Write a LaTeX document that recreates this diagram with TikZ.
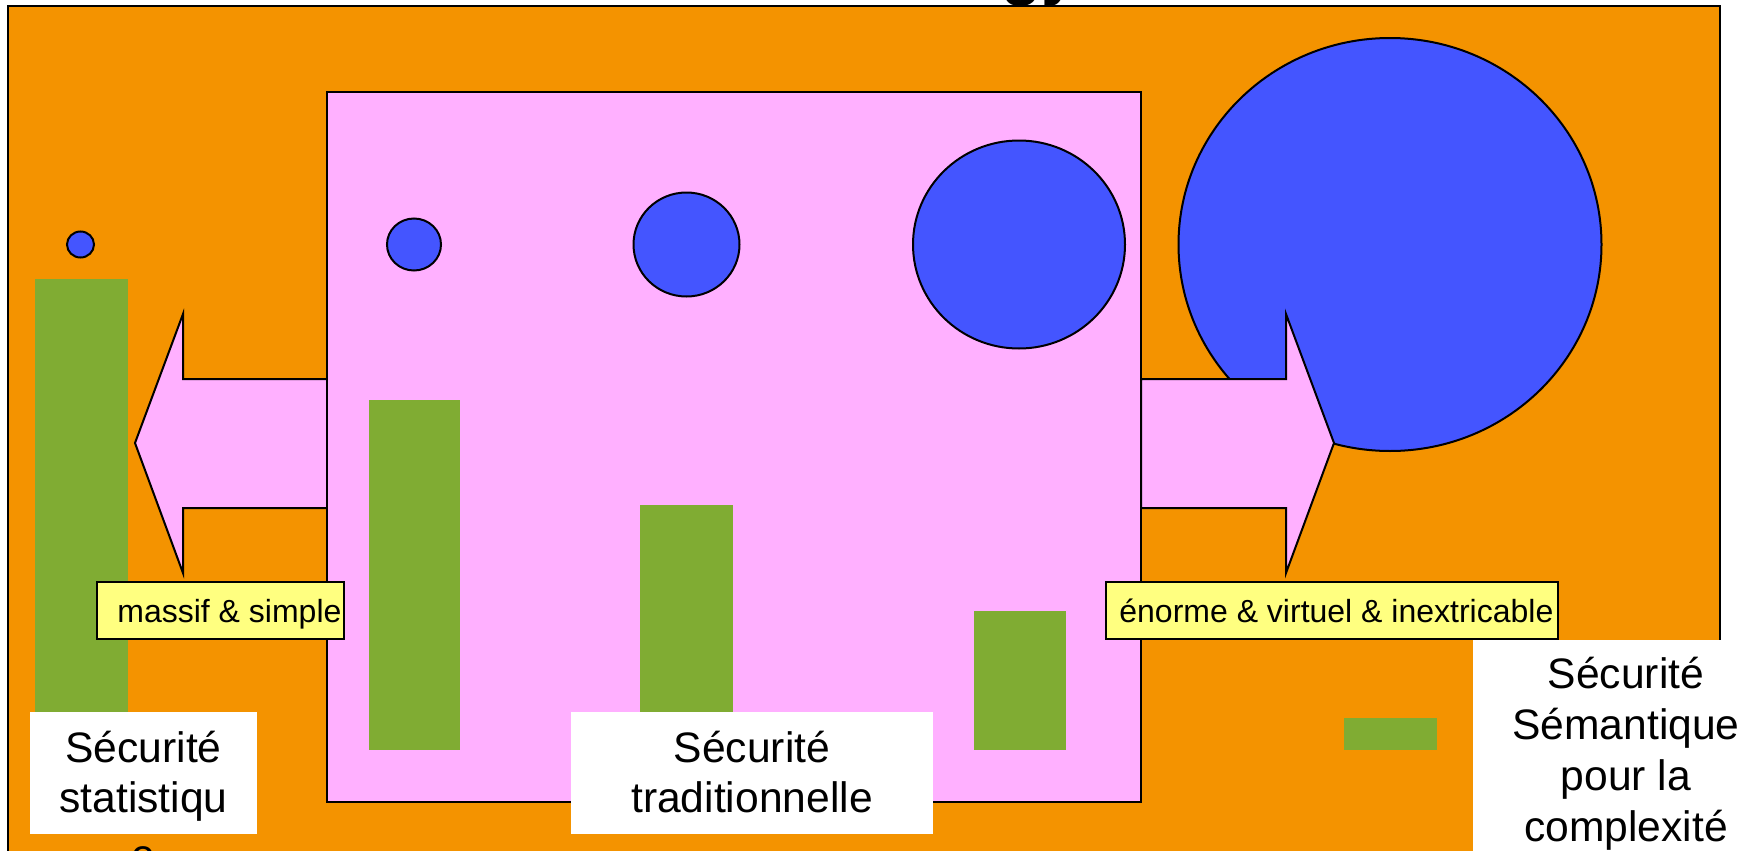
\documentclass[tikz,border=0pt]{standalone}
\usepackage{fontspec}
\setmainfont{Liberation Sans}
\definecolor{bgorange}{RGB}{244,147,0}
\definecolor{pinkc}{RGB}{255,176,255}
\definecolor{bluec}{RGB}{68,85,255}
\definecolor{greenc}{RGB}{128,172,51}
\definecolor{yellowc}{RGB}{255,255,128}
\begin{document}
\begin{tikzpicture}[x=0.5pt,y=-0.5pt,
  outl/.style={draw=black, line width=1pt, line join=miter},
  bar/.style={fill=greenc},
  ball/.style={outl, fill=bluec},
  tag/.style={outl, fill=yellowc},
  whitebox/.style={fill=white},
  bigtxt/.style={font=\fontsize{21.3}{25}\selectfont, anchor=base, inner sep=0pt},
  smalltxt/.style={font=\fontsize{16}{19}\selectfont, anchor=base west, inner sep=0pt},
  titletxt/.style={font=\fontsize{33}{38}\selectfont\bfseries, anchor=base west, inner sep=0pt},
]
\useasboundingbox (0,0) rectangle (1746,851);
\clip (0,0) rectangle (1746,851);
% title fragment
\node[titletxt] (title) at (1001,-8) {gy};
% background
\draw[outl, fill=bgorange] (8,5.5) rectangle (1720,900);
% big circle
\draw[ball] (1390,244.5) ellipse [x radius=211.5, y radius=206.5];
% arrows
\draw[outl, fill=pinkc] (327,379) -- (183,379) -- (183,314) -- (135,443) -- (183,573) -- (183,508) -- (327,508) -- cycle;
\draw[outl, fill=pinkc] (1141,379) -- (1286,379) -- (1286,314) -- (1334,443) -- (1286,573) -- (1286,508) -- (1141,508) -- cycle;
% central pink rectangle
\draw[outl, fill=pinkc] (327,92) rectangle (1141,802);
% circles
\draw[ball] (80.5,244.5) ellipse [x radius=13.5, y radius=13];
\draw[ball] (414,244.5) ellipse [x radius=27, y radius=26];
\draw[ball] (686.5,244.5) ellipse [x radius=53, y radius=52];
\draw[ball] (1019,244.5) ellipse [x radius=106, y radius=104];
% green bars
\fill[bar] (35,279) rectangle (128,750);
\fill[bar] (369,400) rectangle (460,750);
\fill[bar] (640,505) rectangle (733,750);
\fill[bar] (974,611) rectangle (1066,750);
\fill[bar] (1344,718) rectangle (1437,750);
% yellow labels
\draw[tag] (97,582) rectangle (344,639);
\node[smalltxt] (lblL) at (117,622) {massif \& simple};
\draw[tag] (1106,582) rectangle (1558,639);
\node[smalltxt] (lblR) at (1119,622) {énorme \& virtuel \& inextricable};
% white boxes
\fill[whitebox] (30,712) rectangle (257,834);
\fill[whitebox] (571,712) rectangle (933,834);
\fill[whitebox] (1473,640) rectangle (1760,860);
% texts
\node[bigtxt] (s1a) at (143.5,762) {Sécurité};
\node[bigtxt] (s1b) at (143.5,812) {statistiqu};
\node[bigtxt] (s1c) at (143.5,869) {e};
\node[bigtxt] (s2a) at (752,762) {Sécurité};
\node[bigtxt] (s2b) at (752,812) {traditionnelle};
\node[bigtxt] (s3a) at (1626,688) {Sécurité};
\node[bigtxt] (s3b) at (1626,739) {Sémantique};
\node[bigtxt] (s3c) at (1626,790) {pour la};
\node[bigtxt] (s3d) at (1626,841) {complexité};
\end{tikzpicture}
\end{document}
